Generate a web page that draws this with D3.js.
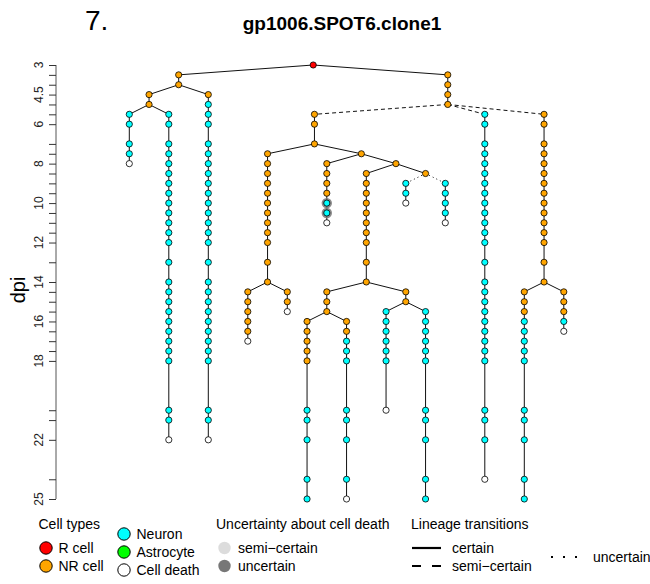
<html>
<head>
<meta charset='UTF-8'>
<script src="https://d3js.org/d3.v7.min.js"></script>
<style>
  body { margin: 0; background: #fff; }
  text { font-family: "Liberation Sans", Arial, Helvetica, sans-serif; }
</style>
</head>
<body>
<svg id="chart" width="650" height="584"></svg>
<script>
// time points (dpi) of the imaging sessions
const timepoints = [3, 3.5, 4, 4.5, 5, 5.5, 6, 7, 7.5, 8, 8.5, 9, 9.5, 10, 10.5, 11, 11.5, 12,
                    13, 14, 14.5, 15, 15.5, 16, 16.5, 17, 17.5, 18, 20.5, 21, 22, 24, 25];
const tickLabels = [3, 4.5, 6, 8, 10, 12, 14, 16, 18, 22, 25];

// each branch = one column of cells; start = index in timepoints
// R = R cell, P = NR cell, N = neuron, A = astrocyte, X = cell death
// slot = column of a terminal branch; inner branches sit at the mean of their children
const branches = [
  {id: 'root', parent: '',   start: 0,  cells: 'R'},
  {id: 'a',    parent: 'root', start: 1, cells: 'PP', link: 'certain'},
  {id: 'b',    parent: 'a',  start: 3,  cells: 'PP', link: 'certain'},
  {id: 'l1',   parent: 'b',  start: 5,  cells: 'NNNNX', link: 'certain', slot: 0},
  {id: 'l2',   parent: 'b',  start: 5,  cells: 'NNNNN NNNNN NNNNN NNNNN NNNNN X', link: 'certain', slot: 2},
  {id: 'l3',   parent: 'a',  start: 3,  cells: 'P NNNNN NNNNN NNNNN NNNNN NNNNN N X', link: 'certain', slot: 4},
  {id: 'c',    parent: 'root', start: 1, cells: 'PPPP', link: 'certain'},
  {id: 'd',    parent: 'c',  start: 5,  cells: 'PPP', link: 'semi'},
  {id: 'e',    parent: 'd',  start: 8,  cells: 'PPPPP PPPPP PP', link: 'certain'},
  {id: 'e1',   parent: 'e',  start: 20, cells: 'PPPPPX', link: 'certain', slot: 6},
  {id: 'e2',   parent: 'e',  start: 20, cells: 'PPX', link: 'certain', slot: 8},
  {id: 'f',    parent: 'd',  start: 8,  cells: 'P', link: 'certain'},
  {id: 'g',    parent: 'f',  start: 9,  cells: 'PPPPNNX', link: 'certain', slot: 10},
  {id: 'h',    parent: 'f',  start: 9,  cells: 'P', link: 'certain'},
  {id: 'i',    parent: 'h',  start: 10, cells: 'PPPPP PPPPP', link: 'certain'},
  {id: 'j',    parent: 'i',  start: 20, cells: 'PPP', link: 'certain'},
  {id: 'k',    parent: 'j',  start: 23, cells: 'PPPPP NNNNN', link: 'certain', slot: 9},
  {id: 'l',    parent: 'j',  start: 23, cells: 'PP NNNNNNN X', link: 'certain', slot: 11},
  {id: 'm',    parent: 'i',  start: 20, cells: 'PP', link: 'certain'},
  {id: 'n',    parent: 'm',  start: 22, cells: 'NNNNNN X', link: 'certain', slot: 13},
  {id: 'o',    parent: 'm',  start: 22, cells: 'NNNNN NNNNN N', link: 'certain', slot: 15},
  {id: 'p',    parent: 'h',  start: 10, cells: 'P', link: 'certain'},
  {id: 'q',    parent: 'p',  start: 11, cells: 'NNX', link: 'uncertain', slot: 14},
  {id: 'r',    parent: 'p',  start: 11, cells: 'NNNNX', link: 'uncertain', slot: 16},
  {id: 's',    parent: 'c',  start: 5,  cells: 'NNNNN NNNNN NNNNN NNNNN NNNNN N X', link: 'semi', slot: 18},
  {id: 't',    parent: 'c',  start: 5,  cells: 'PPPPP PPPPP PPPPP', link: 'semi'},
  {id: 'u',    parent: 't',  start: 20, cells: 'PPP NNNNN NNNNN', link: 'certain', slot: 20},
  {id: 'v',    parent: 't',  start: 20, cells: 'PPPNX', link: 'certain', slot: 22}
];

// cells with uncertainty about cell death
const uncertainCells = [
  {branch: 'g', dpi: 10, level: 'uncertain'},
  {branch: 'g', dpi: 10.5, level: 'uncertain'}
];

const cellColor = {R: '#ff0000', P: '#ffa500', N: '#00ffff', A: '#00ff00', X: '#ffffff'};
const haloColor = {semi: '#dcdcdc', uncertain: '#777777'};
const dashFor = {certain: null, semi: '4,3', uncertain: '1,3'};

const svg = d3.select('#chart');

const y = d3.scaleLinear().domain([3, 25]).range([65, 499]);
const x = d3.scaleLinear().domain([0, 22]).range([129.3, 563.8]);

// build the tree
const root = d3.stratify()
  .id(d => d.id)
  .parentId(d => d.parent || null)(branches);

root.eachAfter(n => {
  if (n.children) n.slot = d3.mean(n.children, c => c.slot);
  else n.slot = n.data.slot;
  const types = n.data.cells.replace(/ /g, '').split('');
  n.cells = types.map((t, i) => ({type: t, dpi: timepoints[n.data.start + i], id: n.id}));
});

// lines
const gLines = svg.append('g');
root.each(n => {
  const cx = x(n.slot);
  for (let i = 1; i < n.cells.length; i++) {
    gLines.append('line')
      .attr('x1', cx).attr('x2', cx)
      .attr('y1', y(n.cells[i - 1].dpi)).attr('y2', y(n.cells[i].dpi))
      .attr('stroke', '#111').attr('stroke-width', 1);
  }
  if (n.parent) {
    const last = n.parent.cells[n.parent.cells.length - 1];
    gLines.append('line')
      .attr('x1', x(n.parent.slot)).attr('y1', y(last.dpi))
      .attr('x2', cx).attr('y2', y(n.cells[0].dpi))
      .attr('stroke', '#111').attr('stroke-width', 1)
      .attr('stroke-dasharray', dashFor[n.data.link]);
  }
});

// halos for uncertain death
const byId = new Map(root.descendants().map(n => [n.id, n]));
svg.append('g').selectAll('circle')
  .data(uncertainCells)
  .join('circle')
  .attr('cx', d => x(byId.get(d.branch).slot))
  .attr('cy', d => y(d.dpi))
  .attr('r', 5.2)
  .attr('fill', d => haloColor[d.level])
  .attr('opacity', 0.85);

// cells
const allCells = root.descendants().flatMap(n => n.cells.map(c => ({...c, slot: n.slot})));
svg.append('g').selectAll('circle')
  .data(allCells)
  .join('circle')
  .attr('cx', d => x(d.slot))
  .attr('cy', d => y(d.dpi))
  .attr('r', 3.1)
  .attr('fill', d => cellColor[d.type])
  .attr('stroke', '#000')
  .attr('stroke-width', 0.8);

// y axis
const axisG = svg.append('g').attr('transform', 'translate(56,0)');
axisG.call(d3.axisLeft(y).tickValues(timepoints).tickSize(7).tickFormat(''));
axisG.select('.domain').attr('stroke', '#555').attr('d', `M0,${y(3)}V${y(25)}`);
axisG.selectAll('.tick line').attr('stroke', '#333');
tickLabels.forEach(t => {
  svg.append('text')
    .attr('transform', `translate(43,${y(t)}) rotate(-90)`)
    .attr('text-anchor', 'middle')
    .attr('font-size', 12)
    .attr('fill', '#222')
    .text(t);
});
svg.append('text')
  .attr('transform', `translate(25,290) rotate(-90)`)
  .attr('text-anchor', 'middle')
  .attr('font-size', 20)
  .text('dpi');

// titles
svg.append('text').attr('x', 85).attr('y', 30).attr('font-size', 28).text('7.');
svg.append('text').attr('x', 342).attr('y', 30).attr('text-anchor', 'middle')
  .attr('font-size', 19).attr('font-weight', 'bold').text('gp1006.SPOT6.clone1');

// legend
const lg = svg.append('g').attr('font-size', 14);
lg.append('text').attr('x', 38.5).attr('y', 529).text('Cell types');
const typeLegend = [
  {t: 'R', label: 'R cell', cx: 46, cy: 548},
  {t: 'P', label: 'NR cell', cx: 46, cy: 566},
  {t: 'N', label: 'Neuron', cx: 124, cy: 534},
  {t: 'A', label: 'Astrocyte', cx: 124, cy: 552},
  {t: 'X', label: 'Cell death', cx: 124, cy: 570}
];
typeLegend.forEach(d => {
  lg.append('circle').attr('cx', d.cx).attr('cy', d.cy).attr('r', 6.2)
    .attr('fill', cellColor[d.t]).attr('stroke', '#000').attr('stroke-width', 1);
  lg.append('text').attr('x', d.cx + 12.5).attr('y', d.cy + 5).text(d.label);
});

lg.append('text').attr('x', 216).attr('y', 529).text('Uncertainty about cell death');
[{k: 'semi', label: 'semi\u2212certain', cy: 548}, {k: 'uncertain', label: 'uncertain', cy: 566}]
  .forEach(d => {
    lg.append('circle').attr('cx', 224.5).attr('cy', d.cy).attr('r', 6.2).attr('fill', haloColor[d.k]);
    lg.append('text').attr('x', 238).attr('y', d.cy + 5).text(d.label);
  });

lg.append('text').attr('x', 411).attr('y', 529).text('Lineage transitions');
[{k: 'certain', label: 'certain', x1: 412, x2: 441, cy: 548, tx: 452},
 {k: 'semi', label: 'semi\u2212certain', x1: 412, x2: 441, cy: 566, tx: 452},
 {k: 'uncertain', label: 'uncertain', x1: 551, x2: 578, cy: 557, tx: 593}]
  .forEach(d => {
    lg.append('line').attr('x1', d.x1).attr('x2', d.x2).attr('y1', d.cy).attr('y2', d.cy)
      .attr('stroke', '#000').attr('stroke-width', 2.2)
      .attr('stroke-dasharray', d.k === 'semi' ? '9,11' : d.k === 'uncertain' ? '2,10' : null);
    lg.append('text').attr('x', d.tx).attr('y', d.cy + 5).text(d.label);
  });
</script>
</body>
</html>
